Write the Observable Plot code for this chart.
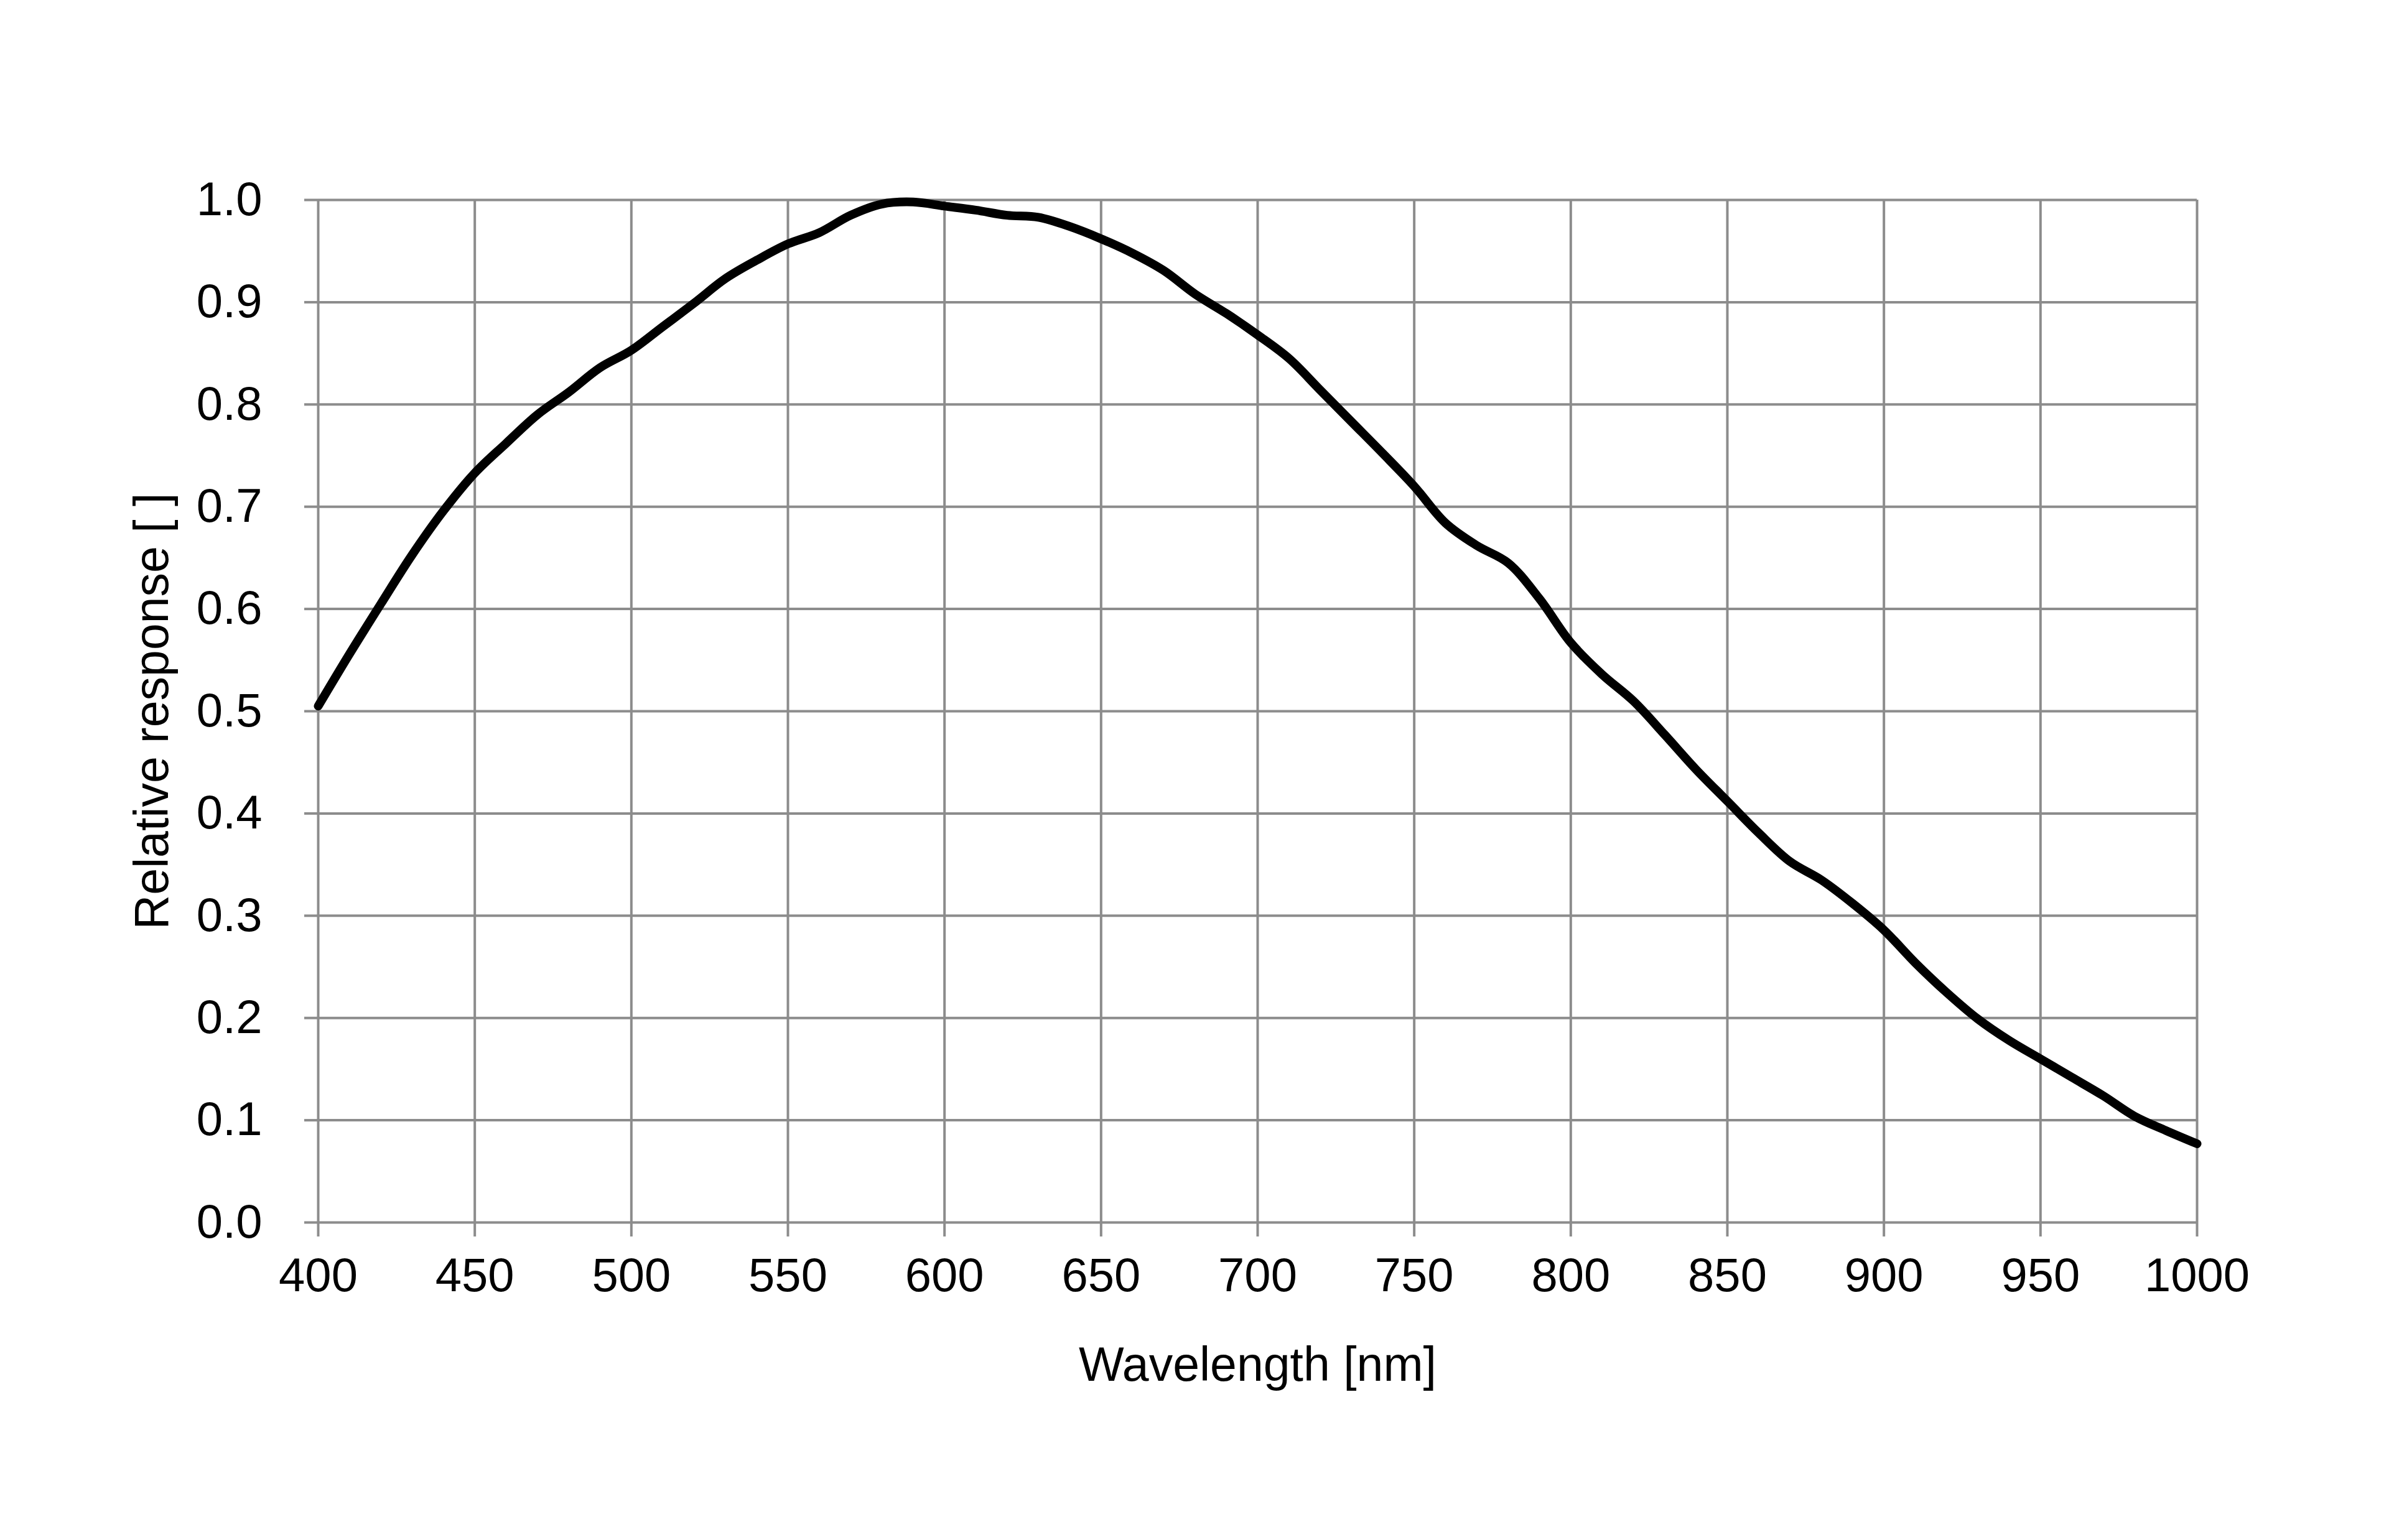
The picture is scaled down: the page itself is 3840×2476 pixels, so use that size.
<!DOCTYPE html>
<html>
<head>
<meta charset="utf-8">
<script src="https://cdn.jsdelivr.net/npm/d3@7"></script>
<script src="https://cdn.jsdelivr.net/npm/@observablehq/plot@0.6"></script>
<style>
  html, body { margin: 0; padding: 0; background: #fff; }
  #chart svg { display: block; }
</style>
</head>
<body>
<div id="chart"></div>
<script>
const wavelengths = [400,410,420,430,440,450,460,470,480,490,500,510,520,530,540,550,560,570,580,590,600,610,620,630,640,650,660,670,680,690,700,710,720,730,740,750,760,770,780,790,800,810,820,830,840,850,860,870,880,890,900,910,920,930,940,950,960,970,980,990,1000];
const response = [0.505,0.556,0.605,0.653,0.696,0.733,0.762,0.790,0.812,0.836,0.853,0.876,0.899,0.923,0.941,0.957,0.968,0.985,0.996,0.998,0.994,0.990,0.985,0.983,0.974,0.962,0.948,0.931,0.908,0.889,0.868,0.845,0.814,0.783,0.752,0.720,0.684,0.662,0.645,0.610,0.567,0.536,0.510,0.477,0.443,0.412,0.381,0.353,0.335,0.312,0.286,0.254,0.225,0.199,0.178,0.160,0.142,0.124,0.104,0.090,0.077];
const xTicks = [400,450,500,550,600,650,700,750,800,850,900,950,1000];
const yTicks = [0,0.1,0.2,0.3,0.4,0.5,0.6,0.7,0.8,0.9,1.0];
const xTitle = "Wavelength [nm]";
const yTitle = "Relative response [ ]";

const data = wavelengths.map((w, i) => ({w, r: response[i]}));
const gridColor = "#8c8c8c";

const chart = Plot.plot({
  width: 3840,
  height: 2476,
  marginLeft: 511,
  marginRight: 309,
  marginTop: 321,
  marginBottom: 511,
  style: {fontFamily: "'Liberation Sans', Arial, sans-serif", background: "#fff", color: "#000"},
  x: {domain: [400, 1000]},
  y: {domain: [0, 1]},
  marks: [
    Plot.gridX(xTicks, {stroke: gridColor, strokeOpacity: 1, strokeWidth: 4}),
    Plot.gridY(yTicks, {stroke: gridColor, strokeOpacity: 1, strokeWidth: 4}),
    Plot.axisX(xTicks, {tickSize: 23, tickPadding: 34, tickFormat: d => String(d), stroke: gridColor, strokeWidth: 4, fill: "#000", fontSize: 76, label: null}),
    Plot.axisY(yTicks, {tickSize: 22, tickPadding: 68, tickFormat: d3.format(".1f"), stroke: gridColor, strokeWidth: 4, fill: "#000", fontSize: 76, label: null}),
    Plot.line(data, {x: "w", y: "r", stroke: "#000", strokeWidth: 14, curve: "catmull-rom"}),
    Plot.text([xTitle], {frameAnchor: "bottom", dy: 230, fontSize: 77, fill: "#000", textAnchor: "middle", lineAnchor: "middle"}),
    Plot.text([yTitle], {frameAnchor: "left", dx: -266, rotate: -90, fontSize: 77, fill: "#000", textAnchor: "middle", lineAnchor: "middle"})
  ]
});
document.getElementById("chart").appendChild(chart);
</script>
</body>
</html>
